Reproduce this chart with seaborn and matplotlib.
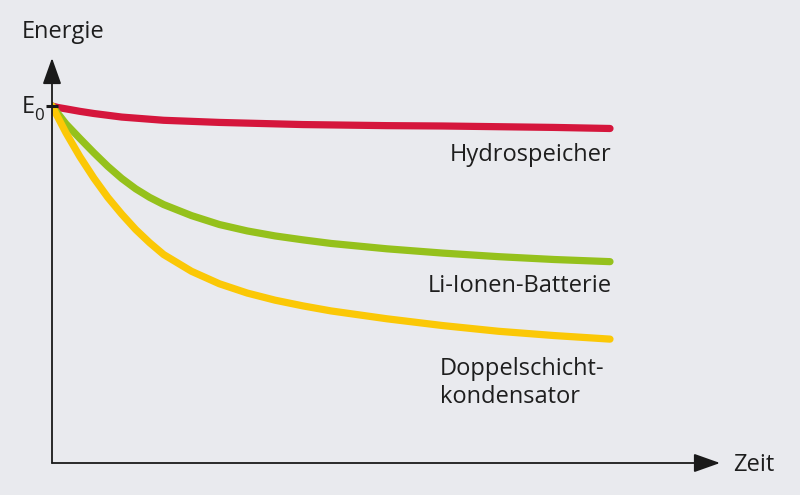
import numpy as np
import pandas as pd
import seaborn as sns
from matplotlib import pyplot as plt

# time (relative units, 0..10) and energy relative to E0
zeit = [0, 0.1, 0.25, 0.5, 0.75, 1.0, 1.25, 1.5, 1.75, 2.0, 2.5, 3.0, 3.5, 4.0, 4.5,
        5.0, 6.0, 7.0, 8.0, 9.0, 10.0]
hydro = [1.000, 0.996, 0.992, 0.985, 0.979, 0.974, 0.969, 0.966, 0.963, 0.960, 0.957,
         0.954, 0.952, 0.950, 0.948, 0.947, 0.945, 0.944, 0.942, 0.940, 0.937]
li_ionen = [1.000, 0.980, 0.950, 0.909, 0.869, 0.831, 0.797, 0.768, 0.744, 0.724, 0.693,
            0.668, 0.650, 0.636, 0.625, 0.615, 0.600, 0.588, 0.578, 0.570, 0.564]
doppelschicht = [1.000, 0.970, 0.925, 0.858, 0.798, 0.744, 0.697, 0.654, 0.617, 0.584, 0.537,
                 0.502, 0.476, 0.456, 0.440, 0.426, 0.404, 0.385, 0.369, 0.357, 0.347]

series_names = ["Hydrospeicher", "Li-Ionen-Batterie", "Doppelschicht"]
colors = ["#d5163c", "#95c11c", "#fbc806"]
bg = "#e9eaee"


def main():
    df = pd.DataFrame({
        "zeit": zeit * 3,
        "energie": hydro + li_ionen + doppelschicht,
        "speicher": np.repeat(series_names, len(zeit)),
    })

    sns.set_theme(style="white")
    plt.rcParams["font.family"] = ["Open Sans", "DejaVu Sans"]

    fig = plt.figure(figsize=(8, 4.95), dpi=100, facecolor=bg)
    # axes box: origin at pixel (52, 463), arrow tips at x=720 / y=58
    ax = fig.add_axes([52 / 800, (495 - 463) / 495, (720 - 52) / 800, (463 - 58) / 495])
    ax.set_facecolor(bg)

    xmax = (720 - 52) / 55.8
    ymax = (463 - 58) / 357
    ax.set_xlim(0, xmax)
    ax.set_ylim(0, ymax)

    sns.lineplot(data=df, x="zeit", y="energie", hue="speicher",
                 palette=dict(zip(series_names, colors)), linewidth=5.2,
                 legend=False, ax=ax, solid_capstyle="round", solid_joinstyle="round",
                 zorder=3)

    for s in ax.spines.values():
        s.set_visible(False)
    ax.set_xticks([])
    ax.set_yticks([])
    ax.set_xlabel("")
    ax.set_ylabel("")

    arrow = dict(arrowstyle="-|>,head_length=0.9,head_width=0.32", color="#1a1a1a",
                 lw=1.3, shrinkA=0, shrinkB=0, mutation_scale=18)
    ax.annotate("", xy=(xmax, 0), xytext=(0, 0), arrowprops=arrow, annotation_clip=False)
    ax.annotate("", xy=(0, ymax), xytext=(0, 0), arrowprops=arrow, annotation_clip=False)

    # E0 tick
    ax.plot([-6 / 55.8, 6 / 55.8], [1, 1], color="#1a1a1a", lw=2.2, clip_on=False, zorder=4,
            solid_capstyle="butt")

    fs = 17
    tc = "#1e1e1e"
    ax.text(-30 / 55.8, 1.19, "Energie", fontsize=fs, color=tc, va="baseline", ha="left")
    ax.text(-30 / 55.8, 0.980, "E", fontsize=fs, color=tc, va="baseline", ha="left")
    ax.text(-18 / 55.8, 0.962, "0", fontsize=fs * 0.72, color=tc, va="baseline", ha="left")
    ax.text(xmax + 13 / 55.8, -0.022, "Zeit", fontsize=fs, color=tc, va="baseline", ha="left")

    ax.text(10.02, 0.846, "Hydrospeicher", fontsize=fs, color=tc, va="baseline", ha="right")
    ax.text(10.04, 0.479, "Li-Ionen-Batterie", fontsize=fs, color=tc, va="baseline", ha="right")
    ax.text(6.95, 0.2465, "Doppelschicht-", fontsize=fs, color=tc, va="baseline", ha="left")
    ax.text(6.95, 0.168, "kondensator", fontsize=fs, color=tc, va="baseline", ha="left")

    fig.savefig("out.png", dpi=100, facecolor=bg)


if __name__ == "__main__":
    main()
